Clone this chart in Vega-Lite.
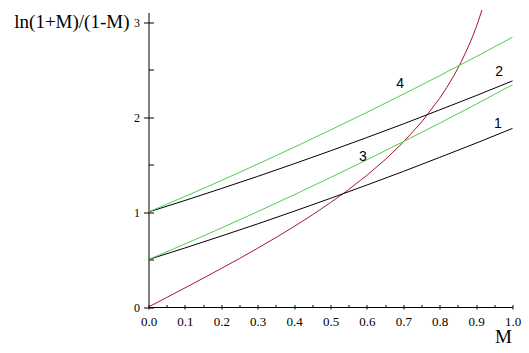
{
  "$schema": "https://vega.github.io/schema/vega-lite/v6.json",
  "autosize": {"type": "none"},
  "width": 364,
  "height": 294.5,
  "padding": {"left": 148.5, "top": 12.5, "right": 16.5, "bottom": 46},
  "background": "white",
  "config": {
    "view": {"stroke": null},
    "axis": {
      "domainColor": "black",
      "tickColor": "black",
      "labelColor": "black",
      "labelFont": "Liberation Serif",
      "labelFontSize": 12,
      "titleColor": "black",
      "titleFont": "Liberation Serif",
      "titleFontWeight": "normal",
      "grid": false
    }
  },
  "datasets": {
    "curves": [
      {"M": 0, "v": 0, "s": "red"},
      {"M": 0.05, "v": 0.1001, "s": "red"},
      {"M": 0.1, "v": 0.2007, "s": "red"},
      {"M": 0.15, "v": 0.3023, "s": "red"},
      {"M": 0.2, "v": 0.4055, "s": "red"},
      {"M": 0.25, "v": 0.5108, "s": "red"},
      {"M": 0.3, "v": 0.619, "s": "red"},
      {"M": 0.35, "v": 0.7308, "s": "red"},
      {"M": 0.4, "v": 0.8473, "s": "red"},
      {"M": 0.45, "v": 0.9694, "s": "red"},
      {"M": 0.5, "v": 1.0986, "s": "red"},
      {"M": 0.55, "v": 1.2367, "s": "red"},
      {"M": 0.6, "v": 1.3863, "s": "red"},
      {"M": 0.65, "v": 1.5506, "s": "red"},
      {"M": 0.7, "v": 1.7346, "s": "red"},
      {"M": 0.75, "v": 1.9459, "s": "red"},
      {"M": 0.8, "v": 2.1972, "s": "red"},
      {"M": 0.82, "v": 2.3136, "s": "red"},
      {"M": 0.84, "v": 2.4423, "s": "red"},
      {"M": 0.86, "v": 2.5867, "s": "red"},
      {"M": 0.88, "v": 2.7515, "s": "red"},
      {"M": 0.89, "v": 2.8439, "s": "red"},
      {"M": 0.9, "v": 2.9444, "s": "red"},
      {"M": 0.905, "v": 2.9985, "s": "red"},
      {"M": 0.91, "v": 3.055, "s": "red"},
      {"M": 0.916, "v": 3.127, "s": "red"},

      {"M": 0, "v": 0.5, "s": "l1"},
      {"M": 0.1, "v": 0.621, "s": "l1"},
      {"M": 0.2, "v": 0.747, "s": "l1"},
      {"M": 0.3, "v": 0.875, "s": "l1"},
      {"M": 0.4, "v": 1.008, "s": "l1"},
      {"M": 0.5, "v": 1.144, "s": "l1"},
      {"M": 0.6, "v": 1.284, "s": "l1"},
      {"M": 0.7, "v": 1.427, "s": "l1"},
      {"M": 0.8, "v": 1.575, "s": "l1"},
      {"M": 0.9, "v": 1.725, "s": "l1"},
      {"M": 1.0, "v": 1.88, "s": "l1"},

      {"M": 0, "v": 1.0, "s": "l2"},
      {"M": 0.1, "v": 1.121, "s": "l2"},
      {"M": 0.2, "v": 1.247, "s": "l2"},
      {"M": 0.3, "v": 1.375, "s": "l2"},
      {"M": 0.4, "v": 1.508, "s": "l2"},
      {"M": 0.5, "v": 1.644, "s": "l2"},
      {"M": 0.6, "v": 1.784, "s": "l2"},
      {"M": 0.7, "v": 1.927, "s": "l2"},
      {"M": 0.8, "v": 2.075, "s": "l2"},
      {"M": 0.9, "v": 2.225, "s": "l2"},
      {"M": 1.0, "v": 2.38, "s": "l2"},

      {"M": 0, "v": 0.5, "s": "l3"},
      {"M": 0.1, "v": 0.663, "s": "l3"},
      {"M": 0.2, "v": 0.831, "s": "l3"},
      {"M": 0.3, "v": 1.004, "s": "l3"},
      {"M": 0.4, "v": 1.181, "s": "l3"},
      {"M": 0.5, "v": 1.363, "s": "l3"},
      {"M": 0.6, "v": 1.549, "s": "l3"},
      {"M": 0.7, "v": 1.74, "s": "l3"},
      {"M": 0.8, "v": 1.935, "s": "l3"},
      {"M": 0.9, "v": 2.135, "s": "l3"},
      {"M": 1.0, "v": 2.34, "s": "l3"},

      {"M": 0, "v": 1.0, "s": "l4"},
      {"M": 0.1, "v": 1.163, "s": "l4"},
      {"M": 0.2, "v": 1.331, "s": "l4"},
      {"M": 0.3, "v": 1.504, "s": "l4"},
      {"M": 0.4, "v": 1.681, "s": "l4"},
      {"M": 0.5, "v": 1.863, "s": "l4"},
      {"M": 0.6, "v": 2.049, "s": "l4"},
      {"M": 0.7, "v": 2.24, "s": "l4"},
      {"M": 0.8, "v": 2.435, "s": "l4"},
      {"M": 0.9, "v": 2.635, "s": "l4"},
      {"M": 1.0, "v": 2.84, "s": "l4"}
    ],
    "labels": [
      {"M": 0.96, "v": 1.93, "t": "1"},
      {"M": 0.963, "v": 2.47, "t": "2"},
      {"M": 0.589, "v": 1.58, "t": "3"},
      {"M": 0.691, "v": 2.35, "t": "4"}
    ]
  },
  "resolve": {"axis": {"x": "independent", "y": "independent"}},
  "layer": [
    {
      "data": {"name": "curves"},
      "mark": {"type": "line", "strokeWidth": 1, "clip": false},
      "encoding": {
        "x": {
          "field": "M", "type": "quantitative",
          "scale": {"domain": [0, 1], "nice": false, "zero": false},
          "axis": {
            "orient": "bottom",
            "values": [0, 0.1, 0.2, 0.3, 0.4, 0.5, 0.6, 0.7, 0.8, 0.9, 1.0],
            "format": ".1f",
            "tickSize": 2,
            "labelPadding": 6,
            "labelFontSize": 13,
            "labelFlush": false,
            "labelOverlap": false,
            "title": "M",
            "titleFontSize": 19,
            "titleX": 354.5,
            "titleY": 35,
            "titleAlign": "center",
            "titleBaseline": "alphabetic"
          }
        },
        "y": {
          "field": "v", "type": "quantitative",
          "scale": {"domain": [0, 3.1], "nice": false, "zero": false},
          "axis": {
            "orient": "left",
            "values": [0, 1, 2, 3],
            "format": "d",
            "tickSize": 5,
            "labelPadding": 4,
            "labelFlush": false,
            "labelOverlap": false,
            "title": "ln(1+M)/(1-M)",
            "titleFontSize": 19,
            "titleAngle": 0,
            "titleAlign": "right",
            "titleBaseline": "alphabetic",
            "titleX": -19.5,
            "titleY": 14.5
          }
        },
        "color": {
          "field": "s", "type": "nominal",
          "scale": {"domain": ["red", "l1", "l2", "l3", "l4"], "range": ["#a8182a", "#000000", "#000000", "#4fcf4f", "#4fcf4f"]},
          "legend": null
        }
      }
    },
    {
      "data": {"name": "labels"},
      "mark": {"type": "text", "font": "Liberation Sans", "fontSize": 14, "color": "black", "baseline": "middle", "align": "center"},
      "encoding": {
        "x": {
          "field": "M", "type": "quantitative",
          "axis": {
            "orient": "bottom",
            "values": [0, 0.05, 0.1, 0.15, 0.2, 0.25, 0.3, 0.35, 0.4, 0.45, 0.5, 0.55, 0.6, 0.65, 0.7, 0.75, 0.8, 0.85, 0.9, 0.95, 1.0],
            "tickSize": -2.5,
            "labels": false,
            "domain": false,
            "title": null
          }
        },
        "y": {
          "field": "v", "type": "quantitative",
          "axis": {
            "orient": "left",
            "values": [0, 0.5, 1, 1.5, 2, 2.5, 3],
            "tickSize": -5,
            "labels": false,
            "domain": false,
            "title": null
          }
        },
        "text": {"field": "t", "type": "nominal"}
      }
    }
  ]
}
